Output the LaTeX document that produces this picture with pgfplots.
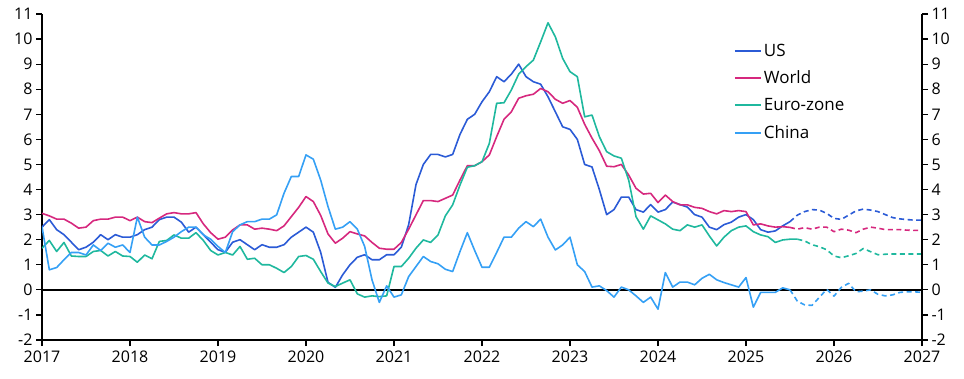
\documentclass[border=0pt]{standalone}
\usepackage{fontspec}
\setmainfont{Open Sans}
\usepackage{pgfplots}
\pgfplotsset{compat=1.18}
\definecolor{cUS}{HTML}{2B5BD6}
\definecolor{cWorld}{HTML}{D6287E}
\definecolor{cEZ}{HTML}{1FB89E}
\definecolor{cCN}{HTML}{35A0F5}
\pgfplotsset{
  base/.style={
    scale only axis, width=880pt, height=326pt,
    xmin=0, xmax=120, ymin=-2, ymax=11,
    ytick={-2,-1,...,11},
    tick align=outside, major tick length=6pt,
    tick style={black, line width=1.2pt},
    axis line style={black, line width=1.3pt},
    tick label style={font=\fontsize{16}{18}\selectfont},
    /pgf/number format/assume math mode=true,
  }
}
\begin{document}
\begin{tikzpicture}
\begin{axis}[base,
  axis x line*=bottom, axis y line*=left,
  xtick={0,12,...,120},
  xticklabels={2017,2018,2019,2020,2021,2022,2023,2024,2025,2026,2027},
  xticklabel style={yshift=-1pt},
  every axis plot/.append style={line width=1.6pt, line join=round},
  legend style={at={(0.786,0.915)}, anchor=north west, draw=none, fill=none,
    font=\fontsize{17}{19}\selectfont, row sep=9.3pt, inner sep=0pt,
    /tikz/every even column/.append style={column sep=0pt}},
  legend cell align=left,
  legend image code/.code={\draw[#1, line width=2pt, solid] (0pt,0.25pt) -- (26pt,0.25pt);},
]
\coordinate (O) at (rel axis cs:0,0);
\addplot[black, line width=1.4pt, forget plot] coordinates {(0,0)(120,0)};
% US
\addplot[cUS] coordinates {
(0,2.5)(1,2.8)(2,2.4)(3,2.2)(4,1.9)(5,1.6)(6,1.7)(7,1.9)(8,2.2)(9,2.0)(10,2.2)(11,2.1)
(12,2.1)(13,2.2)(14,2.4)(15,2.5)(16,2.8)(17,2.9)(18,2.9)(19,2.7)(20,2.3)(21,2.5)(22,2.2)(23,1.9)
(24,1.6)(25,1.5)(26,1.9)(27,2.0)(28,1.8)(29,1.6)(30,1.8)(31,1.7)(32,1.7)(33,1.8)(34,2.1)(35,2.3)
(36,2.5)(37,2.3)(38,1.5)(39,0.3)(40,0.1)(41,0.6)(42,1.0)(43,1.3)(44,1.4)(45,1.2)(46,1.2)(47,1.4)
(48,1.4)(49,1.7)(50,2.6)(51,4.2)(52,5.0)(53,5.4)(54,5.4)(55,5.3)(56,5.4)(57,6.2)(58,6.8)(59,7.0)
(60,7.5)(61,7.9)(62,8.5)(63,8.3)(64,8.6)(65,9.0)(66,8.5)(67,8.3)(68,8.2)(69,7.7)(70,7.1)(71,6.5)
(72,6.4)(73,6.0)(74,5.0)(75,4.9)(76,4.0)(77,3.0)(78,3.2)(79,3.7)(80,3.7)(81,3.2)(82,3.1)(83,3.4)
(84,3.1)(85,3.2)(86,3.5)(87,3.4)(88,3.3)(89,3.0)(90,2.9)(91,2.5)(92,2.4)(93,2.6)(94,2.7)(95,2.9)
(96,3.0)(97,2.8)(98,2.4)(99,2.3)(100,2.35)(101,2.55)(102,2.72)};
\addlegendentry{US}
% World
\addplot[cWorld] coordinates {
(0,3.05)(1,2.95)(2,2.82)(3,2.82)(4,2.66)(5,2.46)(6,2.5)(7,2.76)(8,2.82)(9,2.82)(10,2.9)(11,2.9)
(12,2.76)(13,2.9)(14,2.72)(15,2.68)(16,2.86)(17,3.03)(18,3.08)(19,3.03)(20,3.03)(21,3.08)(22,2.63)(23,2.28)
(24,2.02)(25,2.1)(26,2.39)(27,2.59)(28,2.59)(29,2.42)(30,2.46)(31,2.42)(32,2.36)(33,2.55)(34,2.92)(35,3.29)
(36,3.72)(37,3.52)(38,2.97)(39,2.23)(40,1.86)(41,2.06)(42,2.32)(43,2.23)(44,2.15)(45,1.89)(46,1.66)(47,1.62)
(48,1.62)(49,1.89)(50,2.42)(51,2.99)(52,3.56)(53,3.56)(54,3.52)(55,3.65)(56,3.78)(57,4.38)(58,4.95)(59,4.95)
(60,5.11)(61,5.38)(62,6.11)(63,6.8)(64,7.1)(65,7.64)(66,7.74)(67,7.8)(68,8.03)(69,7.9)(70,7.6)(71,7.44)
(72,7.55)(73,7.28)(74,6.6)(75,6.05)(76,5.55)(77,4.93)(78,4.91)(79,5.0)(80,4.58)(81,4.05)(82,3.82)(83,3.85)
(84,3.48)(85,3.78)(86,3.52)(87,3.39)(88,3.39)(89,3.29)(90,3.25)(91,3.12)(92,3.03)(93,3.16)(94,3.12)(95,3.16)
(96,3.12)(97,2.59)(98,2.63)(99,2.55)(100,2.5)(101,2.52)(102,2.49)};
\addlegendentry{World}
% Euro-zone
\addplot[cEZ] coordinates {
(0,1.66)(1,1.97)(2,1.53)(3,1.89)(4,1.35)(5,1.33)(6,1.33)(7,1.53)(8,1.57)(9,1.35)(10,1.53)(11,1.35)
(12,1.33)(13,1.1)(14,1.39)(15,1.24)(16,1.93)(17,1.97)(18,2.19)(19,2.06)(20,2.06)(21,2.28)(22,1.97)(23,1.57)
(24,1.39)(25,1.49)(26,1.39)(27,1.73)(28,1.22)(29,1.26)(30,1.0)(31,1.0)(32,0.86)(33,0.69)(34,0.93)(35,1.33)
(36,1.37)(37,1.22)(38,0.73)(39,0.27)(40,0.13)(41,0.27)(42,0.4)(43,-0.16)(44,-0.29)(45,-0.24)(46,-0.27)(47,-0.24)
(48,0.93)(49,0.93)(50,1.26)(51,1.66)(52,1.99)(53,1.89)(54,2.19)(55,2.95)(56,3.39)(57,4.18)(58,4.89)(59,4.95)
(60,5.11)(61,5.84)(62,7.44)(63,7.46)(64,7.97)(65,8.6)(66,8.9)(67,9.16)(68,9.89)(69,10.65)(70,10.09)(71,9.23)
(72,8.7)(73,8.5)(74,6.9)(75,6.97)(76,6.11)(77,5.51)(78,5.34)(79,5.25)(80,4.38)(81,2.92)(82,2.42)(83,2.95)
(84,2.79)(85,2.63)(86,2.42)(87,2.36)(88,2.59)(89,2.5)(90,2.59)(91,2.15)(92,1.75)(93,2.1)(94,2.36)(95,2.5)
(96,2.55)(97,2.32)(98,2.19)(99,2.12)(100,1.89)(101,1.99)(102,2.02)(103,2.02)};
\addlegendentry{Euro-zone}
% China
\addplot[cCN] coordinates {
(0,2.52)(1,0.8)(2,0.89)(3,1.2)(4,1.49)(5,1.49)(6,1.39)(7,1.79)(8,1.57)(9,1.86)(10,1.7)(11,1.79)
(12,1.49)(13,2.9)(14,2.1)(15,1.79)(16,1.79)(17,1.93)(18,2.1)(19,2.32)(20,2.5)(21,2.5)(22,2.19)(23,2.02)
(24,1.73)(25,1.49)(26,2.32)(27,2.59)(28,2.72)(29,2.72)(30,2.82)(31,2.82)(32,2.99)(33,3.85)(34,4.52)(35,4.52)
(36,5.38)(37,5.21)(38,4.38)(39,3.32)(40,2.42)(41,2.5)(42,2.72)(43,2.42)(44,1.73)(45,0.4)(46,-0.5)(47,0.16)
(48,-0.29)(49,-0.2)(50,0.53)(51,0.93)(52,1.33)(53,1.13)(54,1.04)(55,0.82)(56,0.73)(57,1.53)(58,2.28)(59,1.57)
(60,0.9)(61,0.9)(62,1.49)(63,2.1)(64,2.1)(65,2.46)(66,2.72)(67,2.52)(68,2.82)(69,2.1)(70,1.59)(71,1.79)
(72,2.1)(73,1.0)(74,0.73)(75,0.11)(76,0.16)(77,-0.03)(78,-0.29)(79,0.11)(80,0.0)(81,-0.24)(82,-0.5)(83,-0.29)
(84,-0.77)(85,0.69)(86,0.11)(87,0.31)(88,0.31)(89,0.2)(90,0.46)(91,0.62)(92,0.4)(93,0.29)(94,0.2)(95,0.11)
(96,0.49)(97,-0.69)(98,-0.1)(99,-0.1)(100,-0.1)(101,0.08)(102,0.0)};
\addlegendentry{China}
% forecasts
\addplot[cUS, dash pattern=on 5pt off 3.5pt, forget plot] coordinates {
(102,2.72)(103,2.98)(104,3.12)(105,3.2)(106,3.18)(107,3.05)(108,2.85)(109,2.81)(110,2.98)(111,3.15)
(112,3.22)(113,3.18)(114,3.12)(115,3.0)(116,2.88)(117,2.83)(118,2.8)(119,2.78)(120,2.78)};
\addplot[cWorld, dash pattern=on 5pt off 3.5pt, forget plot] coordinates {
(102,2.49)(103,2.42)(104,2.48)(105,2.42)(106,2.5)(107,2.5)(108,2.32)(109,2.42)(110,2.38)(111,2.28)
(112,2.42)(113,2.5)(114,2.46)(115,2.4)(116,2.4)(117,2.4)(118,2.38)(119,2.37)(120,2.37)};
\addplot[cEZ, dash pattern=on 5pt off 3.5pt, forget plot] coordinates {
(103,2.02)(104,1.95)(105,1.8)(106,1.72)(107,1.6)(108,1.35)(109,1.28)(110,1.36)(111,1.45)(112,1.65)
(113,1.52)(114,1.4)(115,1.42)(116,1.43)(117,1.43)(118,1.43)(119,1.43)(120,1.43)};
\addplot[cCN, dash pattern=on 5pt off 3.5pt, forget plot] coordinates {
(102,0.0)(103,-0.45)(104,-0.6)(105,-0.62)(106,-0.3)(107,0.02)(108,-0.25)(109,0.1)(110,0.26)(111,-0.08)
(112,-0.05)(113,0.0)(114,-0.18)(115,-0.24)(116,-0.2)(117,-0.1)(118,-0.08)(119,-0.08)(120,-0.1)};
\end{axis}
\begin{axis}[base, axis y line*=right, axis x line=none]
\end{axis}
\pgfresetboundingbox
\path (O) ++(-42pt,-38pt) rectangle ++(964pt,378pt);
\end{tikzpicture}
\end{document}
